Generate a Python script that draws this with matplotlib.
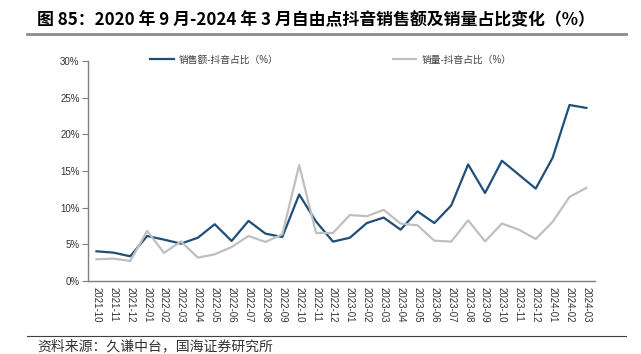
import numpy as np
import matplotlib.pyplot as plt
from matplotlib.lines import Line2D

plt.rcParams['font.family'] = ['Liberation Sans', 'Noto Sans CJK SC', 'DejaVu Sans']

# data (%)
months = ['2021-10', '2021-11', '2021-12', '2022-01', '2022-02', '2022-03',
          '2022-04', '2022-05', '2022-06', '2022-07', '2022-08', '2022-09',
          '2022-10', '2022-11', '2022-12', '2023-01', '2023-02', '2023-03',
          '2023-04', '2023-05', '2023-06', '2023-07', '2023-08', '2023-09',
          '2023-10', '2023-11', '2023-12', '2024-01', '2024-02', '2024-03']
sales_share = [4.05, 3.87, 3.37, 6.14, 5.64, 5.1, 5.9, 7.74, 5.46, 8.2, 6.46, 6.0,
               11.8, 8.1, 5.37, 5.9, 7.9, 8.65, 7.0, 9.5, 7.9, 10.3, 15.9, 12.0,
               16.4, 14.5, 12.6, 16.8, 24.0, 23.6]
volume_share = [2.96, 3.05, 2.73, 6.83, 3.82, 5.4, 3.19, 3.64, 4.64, 6.14, 5.33, 6.37,
                15.8, 6.55, 6.55, 9.0, 8.83, 9.7, 7.83, 7.6, 5.5, 5.37, 8.28, 5.4,
                7.83, 7.0, 5.73, 8.06, 11.47, 12.7]

blue = '#1F4E79'
grey = '#BFBFBF'

fig = plt.figure(figsize=(6.41, 3.54), dpi=100)
ax = fig.add_axes([0.1373, 0.2062, 0.7907, 0.6215])

x = np.arange(len(months))
ax.plot(x, sales_share, color=blue, lw=1.6)
ax.plot(x, volume_share, color=grey, lw=1.6)

ax.set_xlim(-0.5, len(months) - 0.5)
ax.set_ylim(0, 30)
ax.set_yticks(np.arange(0, 31, 5))
ax.set_yticklabels([f'{v}%' for v in range(0, 31, 5)])
ax.set_xticks(x)
ax.set_xticklabels(months, rotation=270)
ax.tick_params(axis='x', length=0, labelsize=7, pad=4, colors='#333333')
ax.tick_params(axis='y', length=4, direction='out', labelsize=7, pad=2,
               colors='#333333', color='#7F7F7F')
for s in ['top', 'right']:
   ax.spines[s].set_visible(False)
for s in ['left', 'bottom']:
   ax.spines[s].set_color('#7F7F7F')
   ax.spines[s].set_linewidth(1)

# legend, two entries spread across the top
h1 = Line2D([], [], color=blue, lw=1.6)
h2 = Line2D([], [], color=grey, lw=1.6)
leg = fig.legend([h1, h2], ['销售额-抖音占比（%）', '销量-抖音占比（%）'],
                 loc='center', bbox_to_anchor=(0.516, 0.832), ncol=2,
                 frameon=False, fontsize=7, handlelength=2.4,
                 columnspacing=11.8, handletextpad=0.5)
for t in leg.get_texts():
   t.set_color('#404040')

# title and rules
fig.text(0.058, 0.944, '图 85：2020 年 9 月-2024 年 3 月自由点抖音销售额及销量占比变化（%）',
         fontsize=12.2, fontweight='bold', va='center', ha='left',
         family=['Noto Sans CJK SC', 'DejaVu Sans'])
fig.add_artist(Line2D([0.042, 0.977], [0.904, 0.904], color='#8C8C8C', lw=2))
fig.add_artist(Line2D([0.042, 0.977], [0.051, 0.051], color='#404040', lw=0.8))
fig.text(0.058, 0.022, '资料来源：久谦中台，国海证券研究所', fontsize=10,
         va='center', ha='left', color='#333333',
         family=['Noto Sans CJK SC', 'DejaVu Sans'])

fig.savefig('out.png', dpi=100)
